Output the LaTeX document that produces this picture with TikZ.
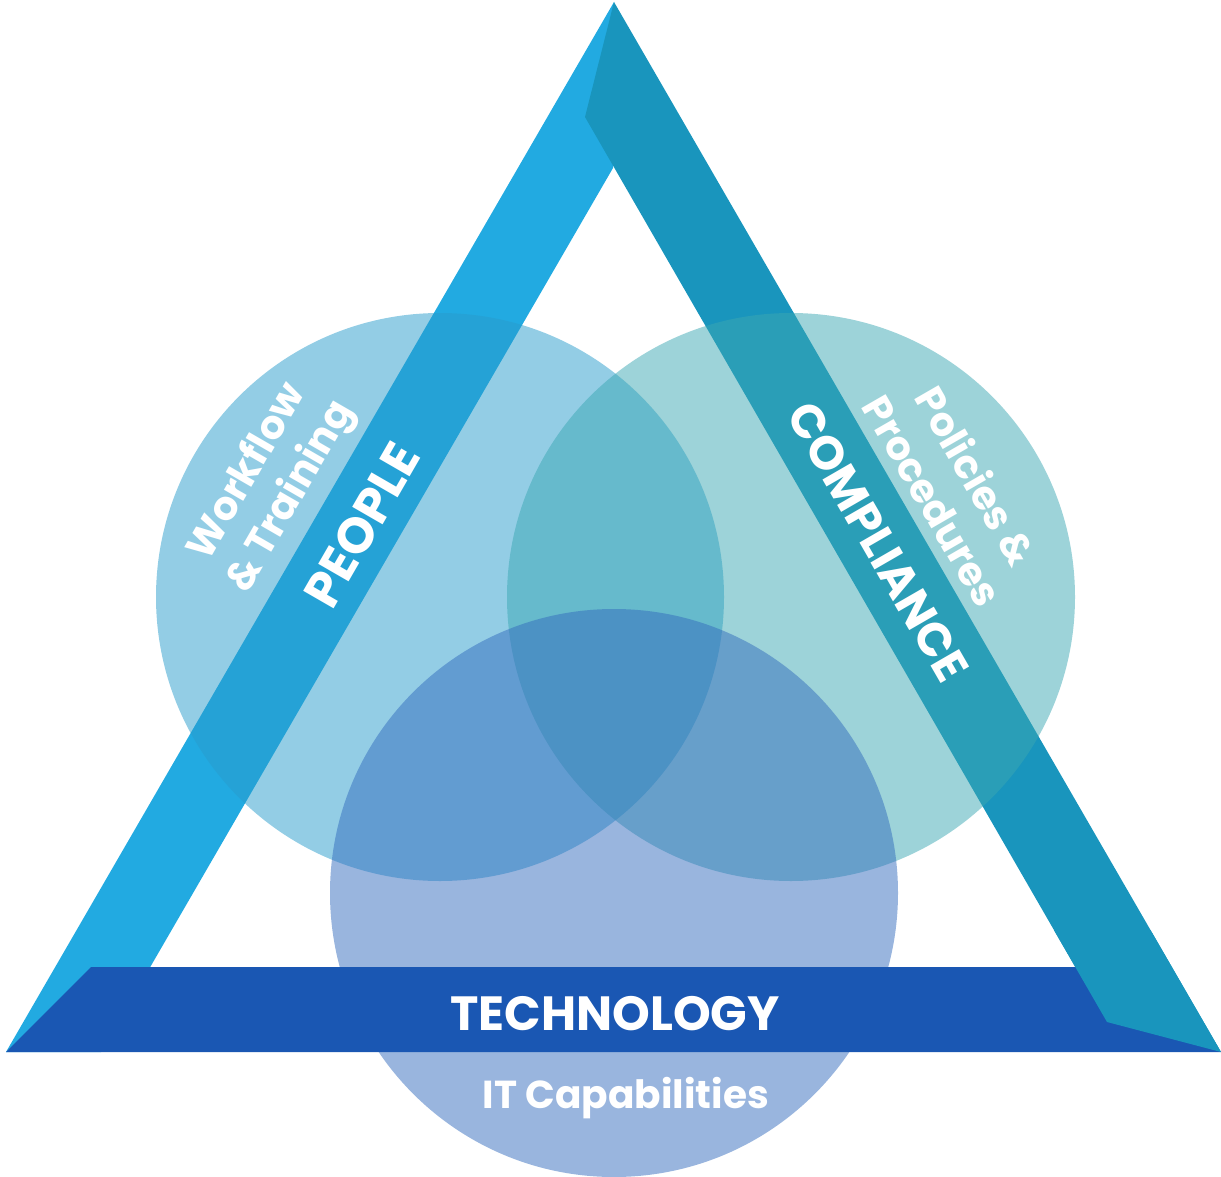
\documentclass[tikz,border=0pt]{standalone}
\usepackage{fontspec}
\setmainfont{Poppins}
\definecolor{leftband}{HTML}{22AAE1}
\definecolor{rightband}{HTML}{1995BD}
\definecolor{bottomband}{HTML}{1A57B3}
\definecolor{peoplecirc}{RGB}{40,156,204}
\definecolor{compcirc}{RGB}{59,167,179}
\definecolor{techcirc}{RGB}{51,107,189}
\begin{document}
\begin{tikzpicture}[x=1pt,y=-1pt,
  venn/.style={fill opacity=0.5},
  bigtxt/.style={text=white,font=\bfseries\fontsize{47}{50}\selectfont,inner sep=0pt},
  smalltxt/.style={text=white,font=\bfseries\fontsize{40}{50}\selectfont,align=center,inner sep=0pt}]
\useasboundingbox (0,0) rectangle (1221,1177);
% bands
\fill[leftband] (614,2) -- (6,1052) -- (101,1052) -- (613,168) -- cycle;
\fill[rightband] (614,2) -- (1221,1052) -- (1107,1022) -- (585,117) -- cycle;
% circles
\fill[peoplecirc,venn] (440,597) circle[radius=284pt];
\fill[compcirc,venn] (791,597) circle[radius=284pt];
\fill[techcirc,venn] (614,893) circle[radius=284pt];
% bottom band
\fill[bottomband] (6,1052) -- (91,967) -- (1110,967) -- (1221,1052) -- cycle;
\begin{scope}
  \clip (900,930) rectangle (1221,1060);
  \fill[rightband] (614,2) -- (1221,1052) -- (1107,1022) -- (585,117) -- cycle;
\end{scope}
% labels
\node[bigtxt,rotate=60,font=\bfseries\fontsize{50}{50}\selectfont] (people) at (362,525) {PEOPLE};
\node[bigtxt,rotate=-60] (compliance) at (878,542) {COMPLIANCE};
\node[bigtxt,font=\bfseries\fontsize{48}{50}\selectfont] (tech) at (615,1014) {TECHNOLOGY};
\node[smalltxt,rotate=60] (workflow) at (270,485) {Workflow\\\& Training};
\node[smalltxt,rotate=-60] (policies) at (955,488) {Policies \&\\Procedures};
\node[smalltxt,font=\bfseries\fontsize{39}{50}\selectfont] (itcap) at (626,1098) {IT Capabilities};
\end{tikzpicture}
\end{document}
